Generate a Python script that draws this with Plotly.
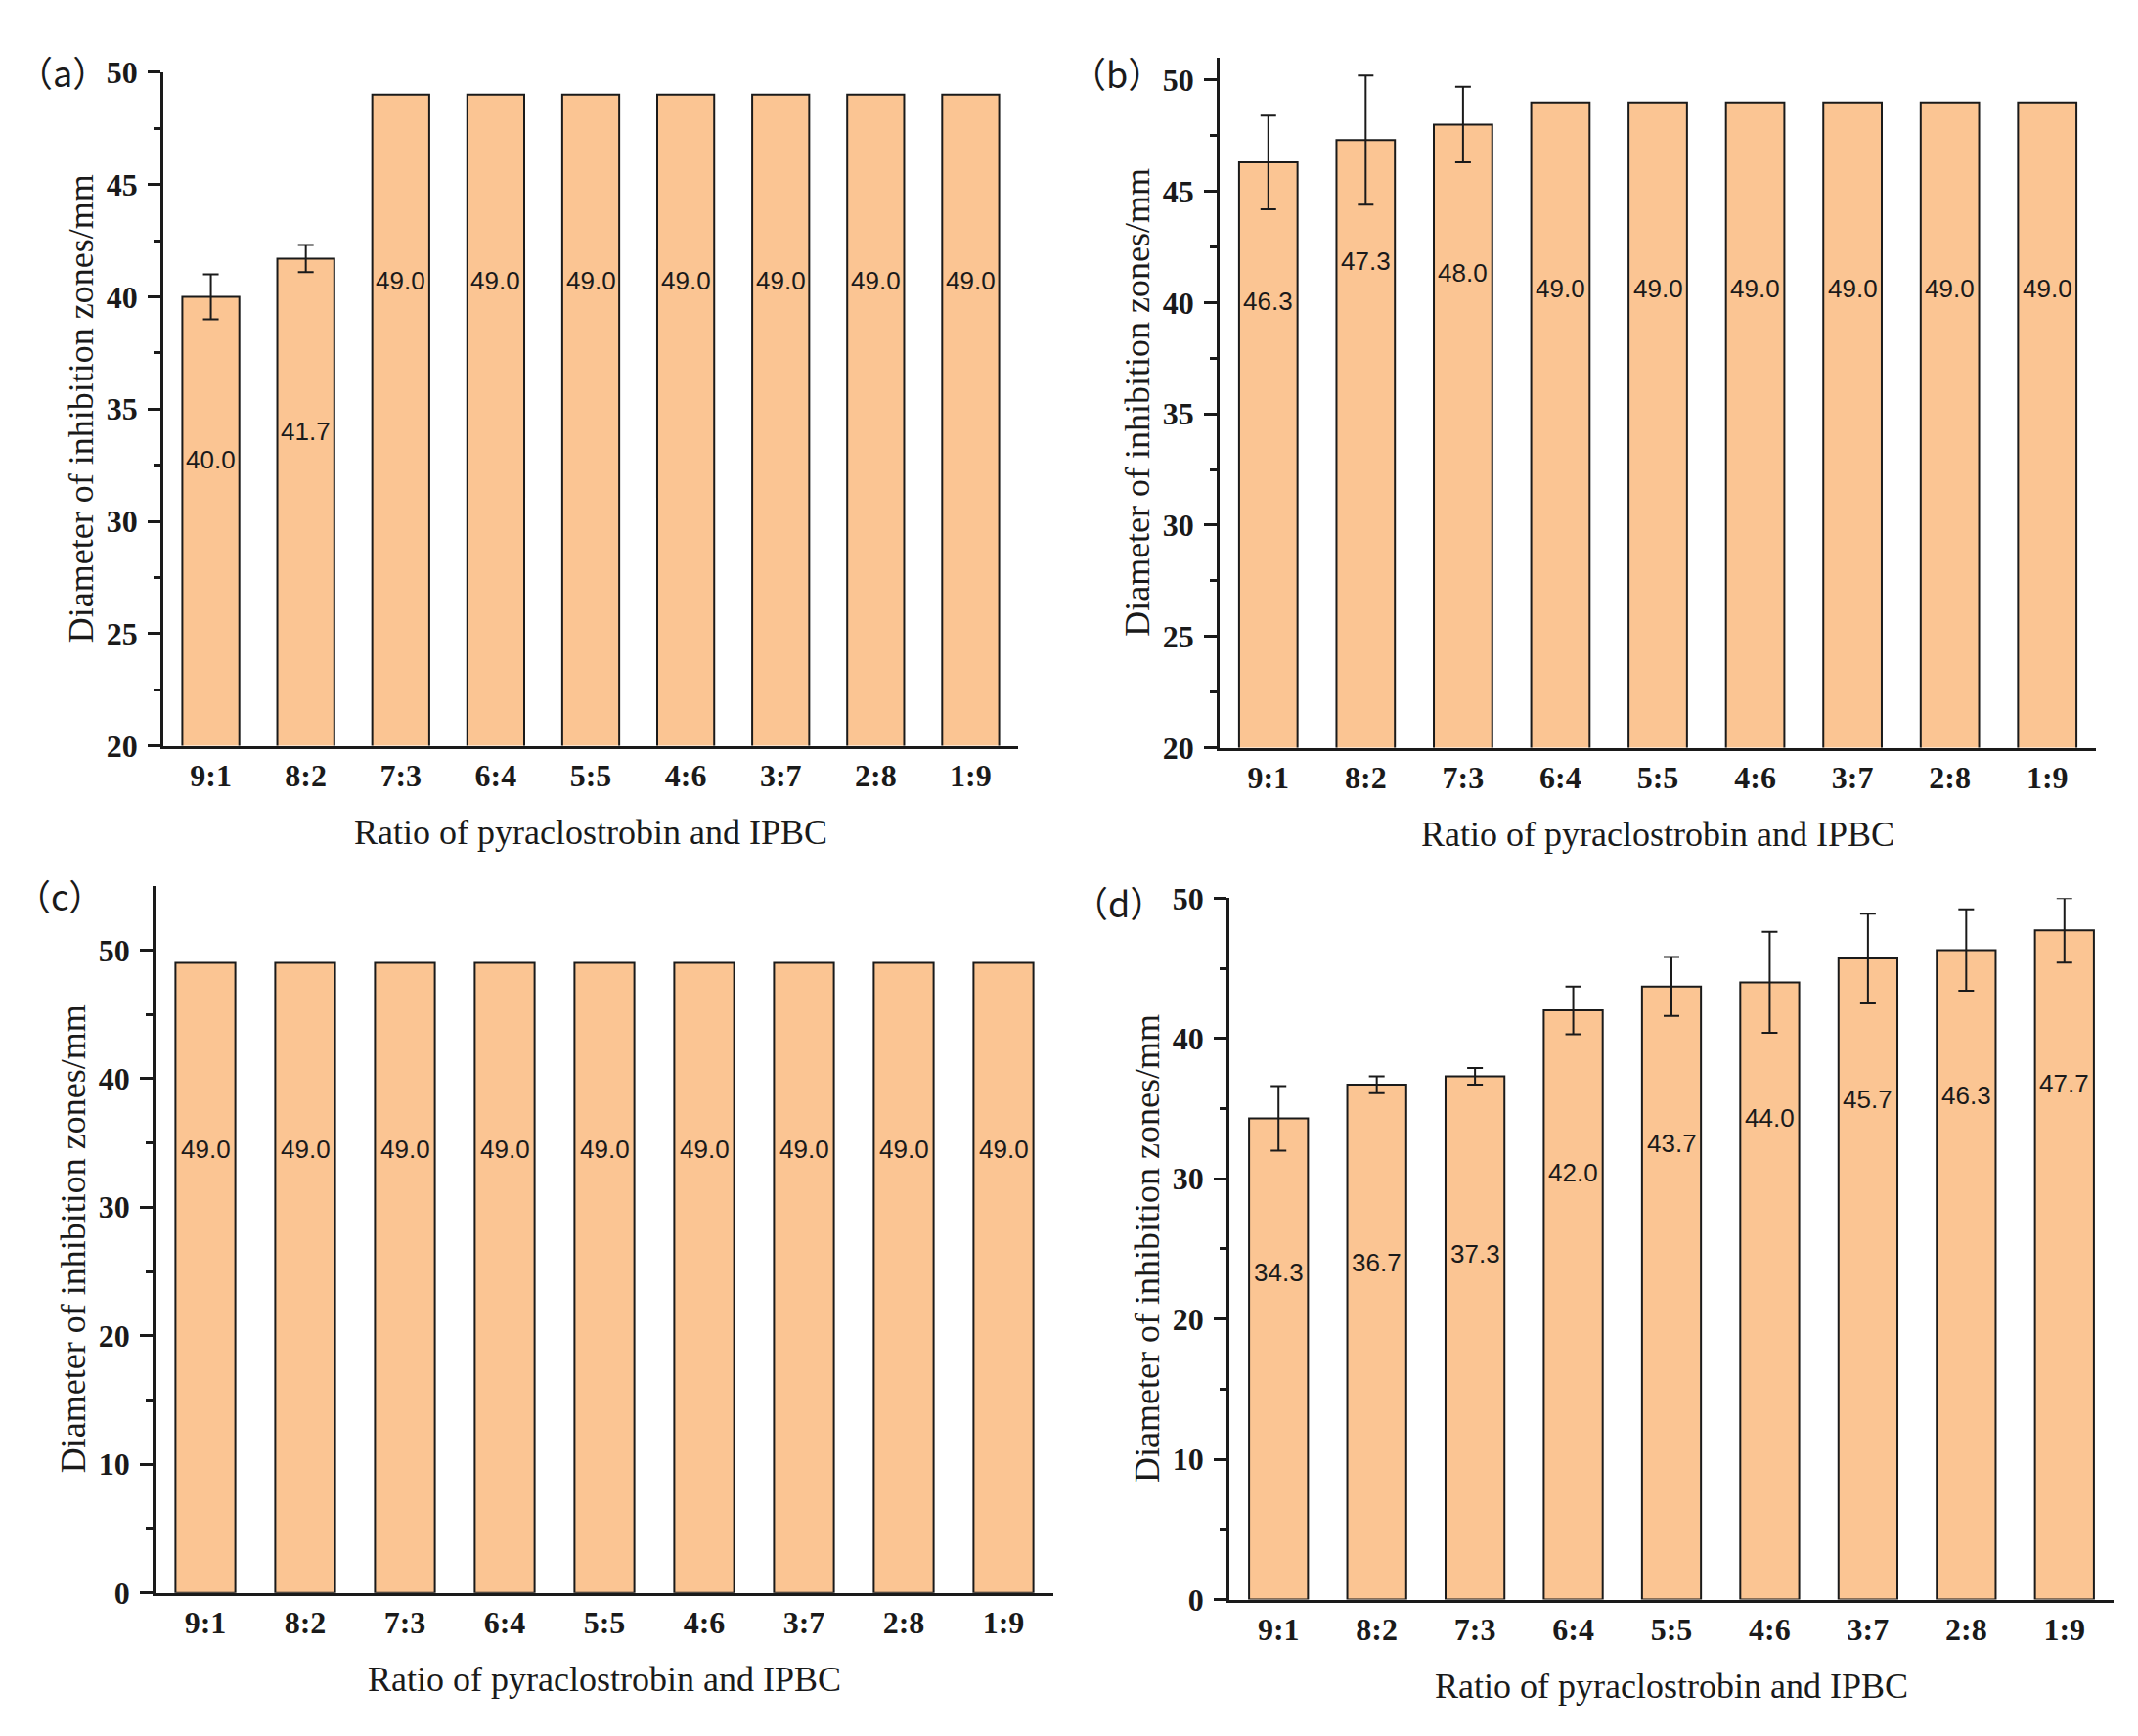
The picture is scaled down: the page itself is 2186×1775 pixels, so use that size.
"""
Inhibition zone diameters for pyraclostrobin / IPBC ratios, four panels
"""
import plotly.graph_objects as go
from plotly.subplots import make_subplots

ratios = ["9:1", "8:2", "7:3", "6:4", "5:5", "4:6", "3:7", "2:8", "1:9"]

a_vals = [40.0, 41.7, 49.0, 49.0, 49.0, 49.0, 49.0, 49.0, 49.0]
a_err = [1.0, 0.6, None, None, None, None, None, None, None]

b_vals = [46.3, 47.3, 48.0, 49.0, 49.0, 49.0, 49.0, 49.0, 49.0]
b_err = [2.1, 2.9, 1.7, None, None, None, None, None, None]

c_vals = [49.0, 49.0, 49.0, 49.0, 49.0, 49.0, 49.0, 49.0, 49.0]
c_err = [None, None, None, None, None, None, None, None, None]

d_vals = [34.3, 36.7, 37.3, 42.0, 43.7, 44.0, 45.7, 46.3, 47.7]
d_err = [2.3, 0.6, 0.6, 1.7, 2.1, 3.6, 3.2, 2.9, 2.3]

panel_names = ["（a）", "（b）", "（c）", "（d）"]
x_title = "Ratio of pyraclostrobin and IPBC"
y_title = "Diameter of inhibition zones/mm"

BAR_COLOR = "#FBC593"
INK = "#1a1a1a"
SERIF = "Liberation Serif, Times New Roman, serif"
SANS = "Liberation Sans, Arial, sans-serif"
W, H = 2186, 1775

# (values, errors, y range, major dtick, x domain px, y domain px (top, bottom), panel label centre px)
panels = [
    (a_vals, a_err, [20, 50], 5, (167, 1041), (57, 760), (64, 56)),
    (b_vals, b_err, [20, 51], 5, (1247, 2143), (42, 762), (1142, 57)),
    (c_vals, c_err, [0, 55], 10, (159, 1077), (906, 1644), (61, 916)),
    (d_vals, d_err, [0, 50], 10, (1257, 2161), (919, 1651), (1144, 923)),
]

fig = make_subplots(rows=2, cols=2)

for i, (vals, errs, yrange, dtick, xdom, ydom, lab) in enumerate(panels):
    row, col = i // 2 + 1, i % 2 + 1
    tops = [v + (e or 0) for v, e in zip(vals, errs)]
    fig.add_trace(go.Bar(x=ratios, y=vals, width=0.6,
                         marker=dict(color=BAR_COLOR, line=dict(color=INK, width=2)),
                         showlegend=False, hoverinfo="x+y"), row=row, col=col)

    # error bars only where the source has them (plotly would draw empty caps otherwise)
    has_err = [k for k, e in enumerate(errs) if e is not None]
    if has_err:
        fig.add_trace(go.Scatter(x=[ratios[k] for k in has_err], y=[vals[k] for k in has_err], mode="markers",
                                 marker=dict(size=1, color="rgba(0,0,0,0)"),
                                 error_y=dict(type="data", array=[errs[k] for k in has_err], visible=True, color=INK,
                                              thickness=2, width=8),
                                 showlegend=False, hoverinfo="skip"), row=row, col=col)

    # minor ticks halfway between the major ones, never on the axis ends
    minor_vals = [m + dtick / 2 for m in range(yrange[0], yrange[1], dtick) if m + dtick / 2 < yrange[1]]

    n = "" if i == 0 else str(i + 1)
    fig.update_xaxes(domain=[xdom[0] / W, xdom[1] / W], range=[-0.5, 8.5], showline=True, linecolor=INK, linewidth=2.5,
                     ticks="", showgrid=False, zeroline=False, ticklabelstandoff=0,
                     tickfont=dict(family=SERIF, size=32, color=INK, weight="bold"), row=row, col=col)
    fig.update_yaxes(domain=[1 - ydom[1] / H, 1 - ydom[0] / H], range=yrange, dtick=dtick, showline=True, linecolor=INK,
                     linewidth=2.5, ticks="outside", ticklen=13, tickwidth=2.5, tickcolor=INK, showgrid=False,
                     zeroline=False, ticklabelstandoff=4,
                     minor=dict(tickvals=minor_vals, ticks="outside", ticklen=7, tickwidth=2.5, tickcolor=INK),
                     tickfont=dict(family=SERIF, size=32, color=INK, weight="bold"), row=row, col=col)

    # value labels, set a fixed distance below the top of each error bar
    for r, v, t in zip(ratios, vals, tops):
        fig.add_annotation(x=r, y=t, xref="x" + n, yref="y" + n, text=f"{v:.1f}", showarrow=False, yshift=-190,
                           xanchor="center", yanchor="middle", font=dict(family=SANS, size=26, color=INK))

    fig.add_annotation(x=0.5, y=0, xref=f"x{n} domain", yref=f"y{n} domain", text=x_title, showarrow=False, yshift=-88,
                       xanchor="center", yanchor="middle", font=dict(family=SERIF, size=36, color=INK))
    fig.add_annotation(x=0, y=0.5, xref=f"x{n} domain", yref=f"y{n} domain", text=y_title, showarrow=False,
                       xshift=-84, textangle=-90, xanchor="center", yanchor="middle",
                       font=dict(family=SERIF, size=36, color=INK))
    fig.add_annotation(x=lab[0] / W, y=1 - lab[1] / H, xref="paper", yref="paper", text=panel_names[i],
                       showarrow=False, xanchor="center", yanchor="middle",
                       font=dict(family="Noto Sans CJK SC", size=36, color=INK))

fig.update_layout(width=W, height=H, margin=dict(l=0, r=0, t=0, b=0), plot_bgcolor="white", paper_bgcolor="white",
                  bargap=0.4)

fig.write_html("out.html", config={"displayModeBar": False}, post_script="document.body.style.margin='0';")
